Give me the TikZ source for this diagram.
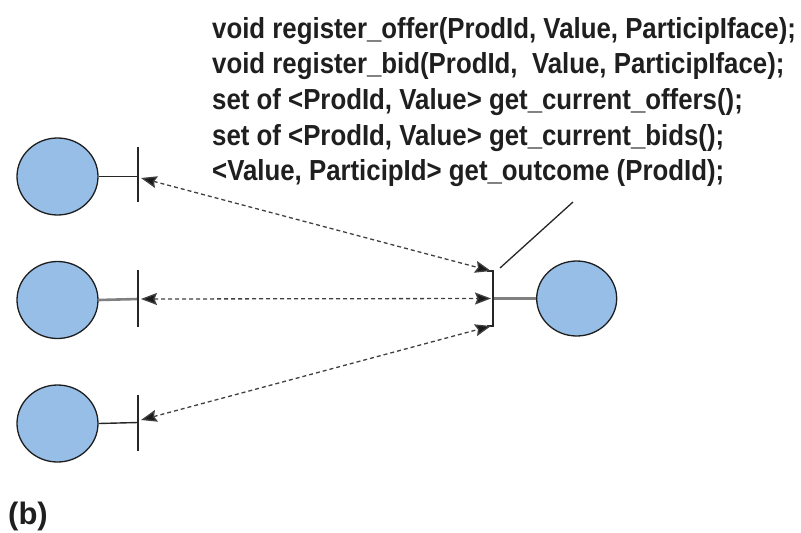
\documentclass[tikz,border=0pt]{standalone}
\usepackage{fontspec}
\setmainfont{Liberation Sans}[FakeStretch=0.89]
\newfontfamily\labfont{Liberation Sans}
\usetikzlibrary{shapes.geometric,arrows.meta}
\definecolor{circfill}{RGB}{150,190,230}
\definecolor{circline}{RGB}{30,30,30}
\begin{document}
\begin{tikzpicture}[x=1pt,y=-1pt,
  comp/.style={ellipse,draw=circline,line width=1.3pt,fill=circfill,minimum width=81pt,minimum height=77pt,inner sep=0pt},
  stick/.style={line width=1.4pt,draw=black!85},
  gstick/.style={line width=2.6pt,draw=black!50},
  ibar/.style={line width=1.4pt,draw=black!85},
  call/.style={draw=black!75,line width=1.3pt,dash pattern=on 4pt off 3pt,
    {Stealth[length=16pt,width=12pt,inset=2.5pt,fill=black!90]}-{Stealth[length=16pt,width=12pt,inset=2.5pt,fill=black!90]}},
  sig/.style={anchor=base west,inner sep=0pt,font=\fontsize{29}{30}\selectfont\bfseries,text=black!88}]
\useasboundingbox (0,0) rectangle (801,533);
% clients
\node[comp] (c1) at (57.5,176.5) {};
\node[comp] (c2) at (57.5,300) {};
\node[comp] (c3) at (57.5,423.5) {};
% client interfaces
\coordinate (b1t) at (138,147); \coordinate (b1b) at (138,202); \coordinate (b1) at (138,176.5);
\coordinate (b2t) at (138,270); \coordinate (b2b) at (138,327); \coordinate (b2) at (138,299);
\coordinate (b3t) at (138,395); \coordinate (b3b) at (138,451); \coordinate (b3) at (138,422.5);
\draw[stick] (c1.east) -- (b1);
\draw[gstick] (c2.east) -- (b2);
\draw[stick] (c3.east) -- (b3);
\draw[ibar] (b1t) -- (b1b);
\draw[ibar] (b2t) -- (b2b);
\draw[ibar] (b3t) -- (b3b);
% server
\node[comp,minimum width=80pt,minimum height=75pt] (s) at (576.7,298.5) {};
\coordinate (st) at (493,271); \coordinate (sb) at (493,326); \coordinate (sm) at (493,298.5);
\draw[gstick] (sm) -- (s.west);
\draw[ibar] ([xshift=-6pt]st) -- (st) -- (sb) -- ([xshift=-6pt]sb);
% calls
\coordinate (l1) at (141,178); \coordinate (r1) at (491,271);
\coordinate (l2) at (141,299); \coordinate (r2) at (491,298.5);
\coordinate (l3) at (141,420); \coordinate (r3) at (491,326);
\draw[call] (l1) -- (r1);
\draw[call] (l2) -- (r2);
\draw[call] (l3) -- (r3);
% interface signature
\node[sig] (t1) at (212,38) {void register\_offer(ProdId, Value, ParticipIface);};
\node[sig] (t2) at (212,73) {void register\_bid(ProdId,\ \ Value, ParticipIface);};
\node[sig] (t3) at (212,109) {set of <ProdId, Value> get\_current\_offers();};
\node[sig] (t4) at (212,145) {set of <ProdId, Value> get\_current\_bids();};
\node[sig] (t5) at (212,180) {<Value, ParticipId> get\_outcome (ProdId);};
\coordinate (lt) at (573,202);
\draw[line width=1.3pt,black!85] ([xshift=7pt,yshift=3pt]st) -- (lt);
% label
\node[anchor=base west,inner sep=0pt,font=\labfont\fontsize{31}{31}\selectfont\bfseries,text=black!88] (lab) at (8,524) {(b)};
\end{tikzpicture}
\end{document}
